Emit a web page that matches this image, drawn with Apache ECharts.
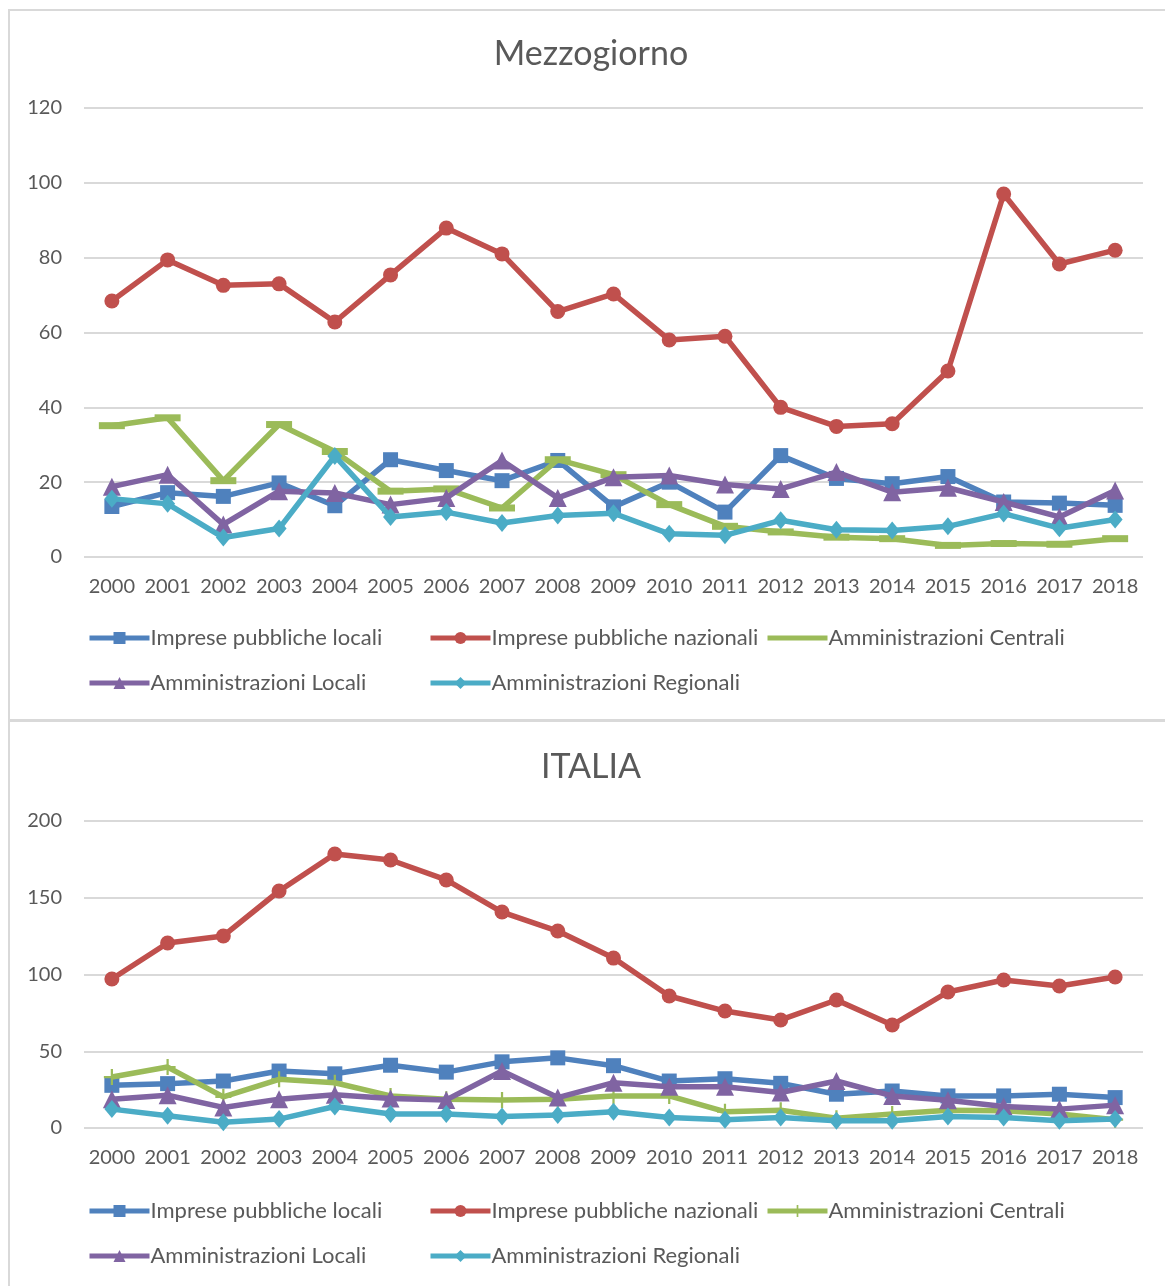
<!DOCTYPE html>
<html>
<head>
<meta charset="utf-8">
<script src="https://cdn.jsdelivr.net/npm/echarts@6/dist/echarts.min.js"></script>
<style>
  html, body { margin: 0; padding: 0; background: #ffffff; width: 1165px; height: 1286px; overflow: hidden; }
  .frame { position: absolute; box-sizing: border-box; }
  #f1 { left: 8px; top: 9px; width: 1165px; height: 712px; border-left: 2px solid #d9d9d9; border-top: 2px solid #d9d9d9; }
  #f2 { left: 8px; top: 719px; width: 1165px; height: 580px; border-left: 2px solid #d9d9d9; border-top: 3px solid #d9d9d9; }
  .chart { position: absolute; left: 0; width: 1165px; }
  #c1 { top: 0; height: 719px; }
  #c2 { top: 720px; height: 566px; }
</style>
</head>
<body>
<div class="frame" id="f1"></div>
<div class="frame" id="f2"></div>
<div class="chart" id="c1"></div>
<div class="chart" id="c2"></div>
<script>
// ---- data ----
const years = ['2000','2001','2002','2003','2004','2005','2006','2007','2008','2009','2010','2011','2012','2013','2014','2015','2016','2017','2018'];
const seriesNames = ['Imprese pubbliche locali','Imprese pubbliche nazionali','Amministrazioni Centrali','Amministrazioni Locali','Amministrazioni Regionali'];

const mzImpreseLocali    = [13.5, 17.2, 16.2, 19.8, 13.7, 26.0, 23.1, 20.4, 25.8, 13.4, 20.0, 12.0, 27.1, 21.0, 19.6, 21.5, 14.7, 14.4, 13.8];
const mzImpreseNazionali = [68.4, 79.4, 72.6, 73.0, 62.8, 75.4, 87.9, 81.0, 65.6, 70.3, 58.0, 59.0, 40.0, 34.9, 35.6, 49.7, 97.0, 78.3, 82.0];
const mzAmmCentrali      = [35.1, 37.2, 20.4, 35.4, 28.2, 17.6, 18.2, 13.1, 26.0, 22.0, 14.0, 8.2, 6.7, 5.3, 4.9, 3.1, 3.6, 3.4, 4.9];
const mzAmmLocali        = [18.8, 22.0, 8.7, 17.6, 17.1, 14.0, 15.8, 25.8, 15.8, 21.3, 21.8, 19.4, 18.2, 22.7, 17.3, 18.5, 14.7, 10.7, 17.8];
const mzAmmRegionali     = [15.6, 14.2, 5.2, 7.6, 27.0, 10.7, 12.0, 9.1, 11.1, 11.7, 6.2, 5.8, 9.8, 7.3, 7.1, 8.2, 11.6, 7.7, 10.0];

const itImpreseLocali    = [27.8, 28.9, 30.6, 37.1, 35.3, 40.9, 36.4, 43.1, 45.7, 40.6, 30.6, 32.1, 29.1, 22.0, 24.1, 20.9, 20.9, 22.0, 19.8];
const itImpreseNazionali = [97.1, 120.5, 125.1, 154.4, 178.5, 174.6, 161.6, 140.7, 128.3, 110.7, 86.0, 76.2, 70.4, 83.4, 67.1, 88.6, 96.4, 92.5, 98.4];
const itAmmCentrali      = [33.2, 39.7, 20.3, 31.7, 29.5, 20.9, 18.8, 18.3, 18.8, 20.9, 20.9, 10.6, 11.6, 6.3, 9.1, 11.6, 11.2, 9.1, 5.4];
const itAmmLocali        = [18.8, 21.3, 13.4, 18.8, 21.6, 19.2, 18.3, 37.1, 19.8, 29.5, 26.9, 26.9, 23.1, 30.6, 20.9, 18.1, 14.0, 12.3, 14.9];
const itAmmRegionali     = [12.3, 8.0, 3.7, 5.8, 14.0, 9.1, 9.1, 7.5, 8.4, 10.6, 6.9, 5.4, 6.9, 4.7, 4.7, 7.5, 6.9, 4.7, 5.8];

const mzYTicks = { min: 0, max: 120, interval: 20 };
const itYTicks = { min: 0, max: 200, interval: 50 };

// ---- styling ----
const FONT = 'Lato, "Open Sans", sans-serif';
const TXT = '#595959';
const colors = ['#4f81bd', '#c0504d', '#9bbb59', '#8064a2', '#4bacc6'];
const PLUS = 'path://M4.3,0H5.7V4.3H10V5.7H5.7V10H4.3V5.7H0V4.3H4.3Z';

function build(el, title, ticks, values, greenSymbol, greenSize, hideGreenLegendSymbol, L) {
  const symbols = ['rect', 'circle', greenSymbol, 'triangle', 'diamond'];
  const sizes = [15, 15, greenSize, 18, [15, 18]];
  const series = values.map((v, i) => ({
    name: seriesNames[i],
    type: 'line',
    data: v,
    symbol: symbols[i],
    symbolSize: sizes[i],
    showAllSymbol: true,
    color: colors[i],
    lineStyle: { width: 5.5, color: colors[i] },
    itemStyle: { color: colors[i] },
    z: 2 + i
  }));
  const cols = [87, 428, 765];
  const legends = seriesNames.map((n, i) => ({
    data: [(i === 2 && hideGreenLegendSymbol) ? { name: n, itemStyle: { opacity: 0 } } : n],
    left: cols[i % 3],
    top: i < 3 ? L.leg1 : L.leg2,
    padding: 0,
    itemWidth: 60,
    itemHeight: 15,
    itemGap: 0,
    selectedMode: false,
    lineStyle: { width: 5 },
    textStyle: { fontFamily: FONT, fontSize: 22, color: TXT, padding: [0, 0, 0, -4] }
  }));
  const chart = echarts.init(document.getElementById(el), null, { renderer: 'canvas' });
  chart.setOption({
    animation: false,
    backgroundColor: 'transparent',
    title: {
      text: title,
      left: 586,
      textAlign: 'center',
      top: L.titleTop,
      textStyle: { fontFamily: FONT, fontSize: 34, fontWeight: 'normal', color: TXT }
    },
    legend: legends,
    grid: { left: 84, right: 22, top: L.gridTop, height: L.gridH, containLabel: false },
    xAxis: {
      type: 'category',
      data: years,
      boundaryGap: true,
      axisLine: { show: false },
      axisTick: { show: false },
      axisLabel: { fontFamily: FONT, fontSize: 20, color: TXT, margin: 20, interval: 0 }
    },
    yAxis: {
      type: 'value',
      min: ticks.min, max: ticks.max, interval: ticks.interval,
      axisLine: { show: false },
      axisTick: { show: false },
      splitLine: { lineStyle: { color: '#d9d9d9', width: 2 } },
      axisLabel: { fontFamily: FONT, fontSize: 20, color: TXT, margin: 22 }
    },
    series: series
  });
}

build('c1', 'Mezzogiorno', mzYTicks,
  [mzImpreseLocali, mzImpreseNazionali, mzAmmCentrali, mzAmmLocali, mzAmmRegionali],
  'rect', [26, 7], true,
  { titleTop: 32, gridTop: 108, gridH: 449, leg1: 627, leg2: 672 });

build('c2', 'ITALIA', itYTicks,
  [itImpreseLocali, itImpreseNazionali, itAmmCentrali, itAmmLocali, itAmmRegionali],
  PLUS, 16, false,
  { titleTop: 25, gridTop: 101, gridH: 307, leg1: 480, leg2: 525 });
</script>
</body>
</html>
